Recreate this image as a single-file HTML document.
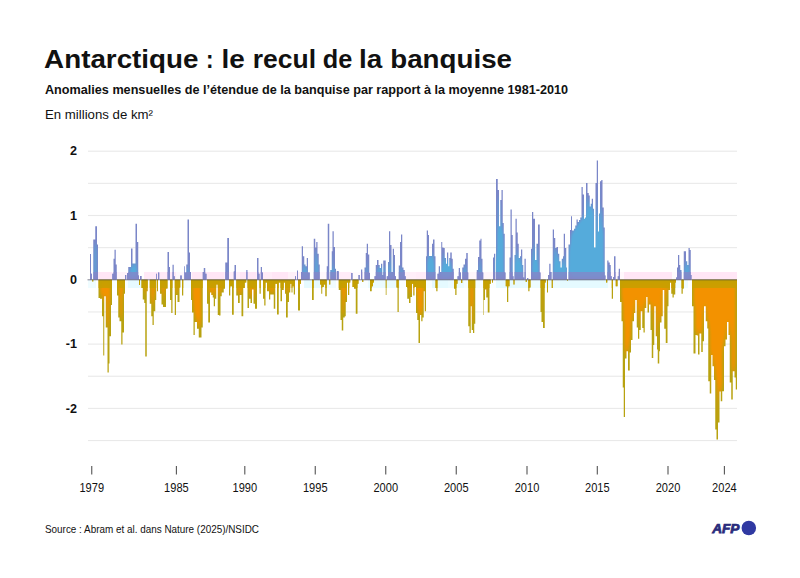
<!DOCTYPE html>
<html><head><meta charset="utf-8"><title>Antarctique</title>
<style>
html,body{margin:0;padding:0;background:#fff;}
body{width:800px;height:578px;overflow:hidden;position:relative;font-family:"Liberation Sans",sans-serif;}
svg{position:absolute;left:0;top:0;}
text{font-family:"Liberation Sans",sans-serif;fill:#111;}
.t1{font-size:26px;font-weight:bold;}
.t2{font-size:13px;font-weight:bold;}
.t3{font-size:13px;}
.yl{font-size:12.6px;font-weight:bold;}
.xl{font-size:12.4px;}
.src{font-size:10.6px;}
.afp{font-size:12.9px;font-weight:bold;font-style:italic;fill:#2a2c7c;stroke:#2a2c7c;stroke-width:0.75px;stroke-linejoin:miter;}
</style></head><body>
<svg width="800" height="578" viewBox="0 0 800 578">
<rect width="800" height="578" fill="#fff"/>
<text x="44.10" y="68.3" class="t1" textLength="154.40" lengthAdjust="spacingAndGlyphs">Antarctique</text><text x="206.00" y="68.3" class="t1" textLength="7.50" lengthAdjust="spacingAndGlyphs">:</text><text x="221.50" y="68.3" class="t1" textLength="23.25" lengthAdjust="spacingAndGlyphs">le</text><text x="252.75" y="68.3" class="t1" textLength="63.25" lengthAdjust="spacingAndGlyphs">recul</text><text x="322.75" y="68.3" class="t1" textLength="29.50" lengthAdjust="spacingAndGlyphs">de</text><text x="359.00" y="68.3" class="t1" textLength="23.25" lengthAdjust="spacingAndGlyphs">la</text><text x="390.25" y="68.3" class="t1" textLength="121.75" lengthAdjust="spacingAndGlyphs">banquise</text>
<text x="45" y="93.6" class="t2" textLength="523" lengthAdjust="spacingAndGlyphs">Anomalies mensuelles de l’étendue de la banquise par rapport à la moyenne 1981-2010</text>
<text x="45" y="119.2" class="t3" textLength="108" lengthAdjust="spacingAndGlyphs">En millions de km²</text>
<rect x="88" y="280" width="8" height="8" fill="#e0f9ff" fill-opacity="0.52"/><rect x="96" y="272" width="16" height="7.5" fill="#ffe2f4" fill-opacity="0.85"/><rect x="112" y="272" width="16" height="7.5" fill="#ffe2f4" fill-opacity="0.42"/><rect x="112" y="280" width="16" height="8" fill="#e0f9ff" fill-opacity="0.18"/><rect x="128" y="280" width="16" height="8" fill="#e0f9ff" fill-opacity="0.77"/><rect x="144" y="272" width="16" height="7.5" fill="#ffe2f4" fill-opacity="0.77"/><rect x="160" y="272" width="16" height="7.5" fill="#ffe2f4" fill-opacity="0.77"/><rect x="160" y="280" width="16" height="8" fill="#e0f9ff" fill-opacity="0.02"/><rect x="176" y="272" width="16" height="7.5" fill="#ffe2f4" fill-opacity="0.27"/><rect x="176" y="280" width="16" height="8" fill="#e0f9ff" fill-opacity="0.35"/><rect x="192" y="272" width="16" height="7.5" fill="#ffe2f4" fill-opacity="0.82"/><rect x="208" y="272" width="16" height="7.5" fill="#ffe2f4" fill-opacity="0.85"/><rect x="224" y="272" width="16" height="7.5" fill="#ffe2f4" fill-opacity="0.56"/><rect x="224" y="280" width="16" height="8" fill="#e0f9ff" fill-opacity="0.21"/><rect x="240" y="272" width="16" height="7.5" fill="#ffe2f4" fill-opacity="0.85"/><rect x="256" y="272" width="16" height="7.5" fill="#ffe2f4" fill-opacity="0.67"/><rect x="256" y="280" width="16" height="8" fill="#e0f9ff" fill-opacity="0.04"/><rect x="272" y="272" width="16" height="7.5" fill="#ffe2f4" fill-opacity="0.85"/><rect x="288" y="272" width="16" height="7.5" fill="#ffe2f4" fill-opacity="0.50"/><rect x="288" y="280" width="16" height="8" fill="#e0f9ff" fill-opacity="0.04"/><rect x="304" y="280" width="16" height="8" fill="#e0f9ff" fill-opacity="0.80"/><rect x="320" y="272" width="16" height="7.5" fill="#ffe2f4" fill-opacity="0.23"/><rect x="320" y="280" width="16" height="8" fill="#e0f9ff" fill-opacity="0.45"/><rect x="336" y="272" width="16" height="7.5" fill="#ffe2f4" fill-opacity="0.66"/><rect x="352" y="272" width="16" height="7.5" fill="#ffe2f4" fill-opacity="0.18"/><rect x="352" y="280" width="16" height="8" fill="#e0f9ff" fill-opacity="0.20"/><rect x="368" y="280" width="16" height="8" fill="#e0f9ff" fill-opacity="0.66"/><rect x="384" y="280" width="16" height="8" fill="#e0f9ff" fill-opacity="0.73"/><rect x="400" y="272" width="16" height="7.5" fill="#ffe2f4" fill-opacity="0.55"/><rect x="400" y="280" width="16" height="8" fill="#e0f9ff" fill-opacity="0.12"/><rect x="416" y="272" width="16" height="7.5" fill="#ffe2f4" fill-opacity="0.64"/><rect x="416" y="280" width="16" height="8" fill="#e0f9ff" fill-opacity="0.21"/><rect x="432" y="280" width="16" height="8" fill="#e0f9ff" fill-opacity="0.85"/><rect x="448" y="280" width="16" height="8" fill="#e0f9ff" fill-opacity="0.65"/><rect x="464" y="272" width="16" height="7.5" fill="#ffe2f4" fill-opacity="0.32"/><rect x="464" y="280" width="16" height="8" fill="#e0f9ff" fill-opacity="0.37"/><rect x="480" y="272" width="16" height="7.5" fill="#ffe2f4" fill-opacity="0.35"/><rect x="480" y="280" width="16" height="8" fill="#e0f9ff" fill-opacity="0.15"/><rect x="496" y="280" width="16" height="8" fill="#e0f9ff" fill-opacity="0.84"/><rect x="512" y="280" width="16" height="8" fill="#e0f9ff" fill-opacity="0.79"/><rect x="528" y="272" width="16" height="7.5" fill="#ffe2f4" fill-opacity="0.19"/><rect x="528" y="280" width="16" height="8" fill="#e0f9ff" fill-opacity="0.58"/><rect x="544" y="280" width="16" height="8" fill="#e0f9ff" fill-opacity="0.65"/><rect x="560" y="280" width="16" height="8" fill="#e0f9ff" fill-opacity="0.85"/><rect x="576" y="280" width="16" height="8" fill="#e0f9ff" fill-opacity="0.85"/><rect x="592" y="280" width="16" height="8" fill="#e0f9ff" fill-opacity="0.85"/><rect x="608" y="272" width="16" height="7.5" fill="#ffe2f4" fill-opacity="0.29"/><rect x="608" y="280" width="16" height="8" fill="#e0f9ff" fill-opacity="0.28"/><rect x="624" y="272" width="16" height="7.5" fill="#ffe2f4" fill-opacity="0.85"/><rect x="640" y="272" width="16" height="7.5" fill="#ffe2f4" fill-opacity="0.85"/><rect x="656" y="272" width="16" height="7.5" fill="#ffe2f4" fill-opacity="0.85"/><rect x="672" y="272" width="16" height="7.5" fill="#ffe2f4" fill-opacity="0.19"/><rect x="672" y="280" width="16" height="8" fill="#e0f9ff" fill-opacity="0.53"/><rect x="688" y="272" width="16" height="7.5" fill="#ffe2f4" fill-opacity="0.85"/><rect x="704" y="272" width="16" height="7.5" fill="#ffe2f4" fill-opacity="0.85"/><rect x="720" y="272" width="16" height="7.5" fill="#ffe2f4" fill-opacity="0.85"/><rect x="736" y="272" width="1" height="7.5" fill="#ffe2f4" fill-opacity="0.85"/>
<rect x="88" y="440.00" width="649" height="1.1" fill="#e9e9e9"/><rect x="88" y="407.85" width="649" height="1.1" fill="#e9e9e9"/><rect x="88" y="375.70" width="649" height="1.1" fill="#e9e9e9"/><rect x="88" y="343.55" width="649" height="1.1" fill="#e9e9e9"/><rect x="88" y="311.40" width="649" height="1.1" fill="#e9e9e9"/><rect x="88" y="247.10" width="649" height="1.1" fill="#e9e9e9"/><rect x="88" y="214.95" width="649" height="1.1" fill="#e9e9e9"/><rect x="88" y="182.80" width="649" height="1.1" fill="#e9e9e9"/><rect x="88" y="150.65" width="649" height="1.1" fill="#e9e9e9"/>
<defs><filter id="fp" filterUnits="userSpaceOnUse" x="80" y="140" width="670" height="320" color-interpolation-filters="sRGB"><feGaussianBlur in="SourceAlpha" stdDeviation="2.5 5" result="m"/><feComponentTransfer in="m" result="w"><feFuncA type="linear" slope="2.5" intercept="-1.125"/></feComponentTransfer><feFlood flood-color="#55abdb" result="cb"/><feComposite in="cb" in2="w" operator="in" result="cbw"/><feFlood flood-color="#7a86c8" result="ct"/><feMerge result="mix"><feMergeNode in="ct"/><feMergeNode in="cbw"/></feMerge><feComposite in="mix" in2="SourceAlpha" operator="in"/></filter><filter id="fn" filterUnits="userSpaceOnUse" x="80" y="140" width="670" height="320" color-interpolation-filters="sRGB"><feGaussianBlur in="SourceAlpha" stdDeviation="2.5 5" result="m"/><feComponentTransfer in="m" result="w"><feFuncA type="linear" slope="2.4" intercept="-1.27"/></feComponentTransfer><feFlood flood-color="#f39200" result="cb"/><feComposite in="cb" in2="w" operator="in" result="cbw"/><feFlood flood-color="#b8a210" result="ct"/><feMerge result="mix"><feMergeNode in="ct"/><feMergeNode in="cbw"/></feMerge><feComposite in="mix" in2="SourceAlpha" operator="in"/></filter><clipPath id="cn"><rect x="80" y="280" width="670" height="8"/></clipPath><clipPath id="cp"><rect x="80" y="272" width="670" height="7.6"/></clipPath></defs><path d="M86,279.5H90V254.00H91V273.75H92V279.50H93.25V239.38H95.25V226.25H97V244.38H98V279.50H112.25V273.75H113.5V258.75H114.5V249.75H115.75V264.38H116.75V279.50H125V275.00H126.25V279.50H127V273.12H128.25V266.88H131V248.50H132.5V263.50H135.5V223.75H137V241.88H138.25V275.50H139V279.50H140V276.00H141.5V279.50H156.25V273.75H157V279.50H158V272.50H159.25V279.50H167.5V251.88H169V266.88H170V279.50H172.5V264.75H173.75V276.25H174.75V279.50H180.25V275.38H181.75V279.50H184.25V266.25H185V272.50H186.25V264.38H187.5V219.38H189V252.50H190V271.88H191V279.50H202.75V271.88H203.75V268.12H205.25V273.75H206.5V279.50H225.25V262.50H227.25V238.12H229V279.50H233.75V271.25H234.5V265.00H236V279.50H246.25V270.00H247.5V279.50H257V258.12H258.5V273.75H259.5V279.50H260.75V266.88H262V272.50H263V279.50H295V276.25H296V279.50H297V270.62H298V279.50H301V271.88H301.75V246.25H303V256.25H304.25V264.38H305.5V266.25H306.75V258.12H308V272.50H309.75V279.50H313.75V238.75H315.25V247.50H316.25V241.88H317.5V253.75H318.75V264.38H319.75V279.50H326.75V266.25H327.75V223.75H329.25V279.50H330.25V270.00H331.75V251.25H332.5V231.25H333.75V246.88H335V268.75H336V279.50H336.75V271.00H338.75V279.50H351.25V273.12H352.5V279.50H358.5V275.00H359.75V279.50H361V269.38H362.25V279.50H364.5V267.50H365.75V253.12H366.75V243.75H368V254.38H369.25V273.12H370V279.50H374.5V276.25H375.75V265.00H377V260.00H378.5V265.00H379.75V268.12H381V263.75H382.25V275.00H383.25V260.62H385.75V279.50H386.75V276.25H388V261.88H389V231.25H390.25V245.00H391.5V271.88H392.75V248.75H394V255.00H395V276.25H396V279.50H398.75V265.62H400V241.88H401V234.38H402.25V267.50H403.5V270.00H404.75V276.25H405.75V279.50H426V256.25H426.75V230.62H428V235.00H429V256.00H432V243.75H433V239.38H434.5V256.25H435.5V279.50H437.5V273.75H438.75V266.25H440V271.88H441.25V241.88H442.25V247.50H443.5V248.12H444.75V258.12H446V263.75H447V252.50H448.25V266.25H449.25V258.12H450.25V252.50H451.75V258.75H452.75V268.75H453.75V279.50H457.5V276.25H458.75V268.12H460V272.50H461V279.50H462.25V267.50H463.5V264.38H465V258.75H466.25V253.12H467.75V272.50H468.25V279.50H476.75V270.00H478V256.88H479.25V240.62H480.5V238.75H481.5V258.75H482.5V272.50H483.25V279.50H493V257.50H494V253.75H495.25V279.50H496V179.00H497.75V190.00H499V226.25H500.25V200.00H501.5V190.00H502.75V223.12H503.75V233.75H504.75V272.50H505.5V279.50H509.5V257.50H510.5V209.50H511.75V235.00H512.75V276.25H513.5V279.50H514.5V255.00H515.5V218.75H516.75V232.50H517.75V243.75H518.75V258.12H520V256.25H521V249.38H522.25V265.00H523.25V277.50H524.25V279.50H524.5V258.75H525.75V279.50H527V278.12H528.25V279.50H531V248.75H532V211.88H533.25V218.75H535V260.00H536.5V243.75H538V224.38H539.75V272.50H540.5V279.50H548V275.00H549.25V263.75H550.5V271.88H551.5V279.50H552.75V229.38H554V238.12H555.25V248.12H556.5V246.88H558V253.75H559.25V261.25H560.5V267.50H561.75V258.75H563V256.25H563.75V233.75H565V248.12H566.25V267.50H567V279.50H568.5V244.38H570V230.00H571V216.25H572V230.62H574V228.75H575.25V225.62H576.5V219.38H577.75V221.88H579V220.00H580.25V217.50H581.5V186.88H582.75V194.50H584V218.75H585V217.50H586V183.12H587.5V193.12H588.75V195.50H589.75V206.50H590.75V203.75H591.75V198.75H593V208.75H594V247.50H595.5V183.12H596.75V160.50H598V231.50H599V213.50H600V181.25H601.25V180.00H602.5V207.50H603.75V227.50H604.75V275.50H605.5V279.50H607.25V260.62H608.5V262.50H609.75V265.00H610.75V276.25H611.75V279.50H613V276.88H614V256.25H615.5V279.50H617.75V276.25H618.75V268.75H620V279.50H676V277.50H677V267.50H678V255.00H679.25V265.00H680.25V270.00H681.5V279.50H683.75V251.25H686V261.25H687.25V265.00H688.5V248.12H689.75V250.00H690.75V275.00H691.5V279.50H740V279.5Z" fill="#000" filter="url(#fp)"/><path d="M86,279.5H92.25V281.50H93.25V279.50H98.5V298.12H100V298.75H102V316.25H103.25V355.50H104.25V296.25H105.75V327.50H107.5V372.50H108.75V363.50H109.5V336.25H111V305.00H112V279.50H117V295.62H118.25V317.50H119.5V321.25H121.25V344.50H122.5V332.50H124V293.75H125V279.50H139V285.00H140V279.50H141.5V288.12H142.75V299.38H144.25V303.12H145.25V356.50H146.75V291.25H147.75V279.50H149.75V303.75H151.25V316.25H152.5V325.00H153.75V311.25H155.25V300.00H156.25V279.50H157V291.25H158V279.50H160V293.75H161.5V304.38H163V306.88H166V288.75H167.5V279.50H170V300.00H171.25V313.12H172.5V279.50H174.75V315.00H176V295.00H177.5V301.88H179.5V287.50H180.25V279.50H182V295.62H183.25V279.50H191V300.00H192V312.50H193.5V335.00H194.75V321.88H197V328.75H198.75V337.50H201.5V327.50H202.75V279.50H207V303.75H208.25V322.50H210V292.50H211.25V295.00H212.75V297.50H213.75V306.25H215V298.75H216.25V284.38H217.75V315.00H219V315.62H220.5V296.25H221.75V292.50H223.75V288.75H225V279.50H229V295.62H230.25V286.25H232V314.75H233.75V279.50H236.25V295.62H238V303.12H239.75V295.00H241.5V316.25H243.25V288.12H244.75V282.50H246.25V279.50H247.5V308.12H249V298.75H250.5V303.12H252V289.38H253.5V303.75H255V308.75H257V279.50H259.5V293.75H260.75V279.50H263V298.75H264.25V305.62H265.5V282.50H267V291.25H269V299.38H270.25V294.38H273.75V308.75H275.25V283.75H277V314.38H278.75V282.50H280.5V301.25H282V290.00H283.75V282.50H285V293.75H286V317.50H287.75V301.88H289V292.50H290.25V283.75H291.5V292.50H292.5V286.25H293.75V294.38H295V279.50H298V310.62H300V283.75H301V279.50H312V300.00H313.75V279.50H320V284.38H321.25V293.75H322.25V286.88H323.75V284.38H325.25V296.25H326.75V279.50H329.25V284.38H330.25V279.50H338.75V290.00H340.5V320.00H341.75V330.62H343.25V317.50H344.75V316.25H345.75V301.88H347V282.50H348V295.00H349.25V282.50H350.25V279.50H352.5V286.88H354V288.75H355.75V313.75H357.5V283.75H358.5V279.50H362.25V281.88H363.25V279.50H370V291.25H371.75V286.25H373V282.50H374V279.50H385.75V295.00H386.5V279.50H396.5V287.50H397.5V311.88H398.75V279.50H406V286.88H407.25V298.75H409V303.12H410.5V296.88H412V283.75H413.25V295.62H414.5V286.88H416V313.12H417.25V320.00H418.5V343.12H420V315.00H421.25V321.25H422.5V317.50H423.75V291.25H424.75V311.25H426V279.50H435.5V288.12H436.25V291.25H437.5V279.50H454V288.75H455.25V295.00H456.5V283.75H457.5V279.50H461V283.12H462.25V279.50H468.25V326.25H469.5V333.12H470.75V306.25H471.75V330.00H473V333.12H474.25V323.75H475.25V279.50H483.25V315.00H483.75V300.00H485V289.38H486.25V297.50H487.75V312.50H489.5V283.75H490.75V279.50H492V282.50H493V279.50H505.75V286.25H507V301.88H508.25V286.25H509.5V279.50H513.5V284.38H514.5V279.50H525.75V281.88H526.75V279.50H528.25V291.25H529.5V287.50H530.5V279.50H540.5V311.88H541.5V321.88H543V328.12H544.75V282.50H545.75V279.50H547V292.50H548V279.50H551.75V288.12H552.75V279.50H567V280.62H568V279.50H606V282.50H607.25V279.50H611.75V298.75H613V279.50H615.75V286.25H617.5V279.50H620V301.88H621.5V321.25H622.75V387.50H623.75V417.00H625V358.50H626.5V351.25H628V370.50H629.75V352.50H631V340.00H632.5V321.25H634V313.12H635.25V300.00H636.75V327.50H638V338.75H639.25V330.00H640.75V311.25H642.25V328.12H643.5V332.50H644.75V308.12H646.25V296.88H647.5V312.50H649V304.38H650.5V330.00H651.75V358.12H653.25V345.00H654.25V306.25H655.75V336.25H657V349.50H657.75V363.50H659.25V351.25H660V322.50H661.5V316.25H662.75V290.00H664.25V328.75H665.75V343.12H667.5V306.25H668.5V290.00H670V282.50H671.25V293.75H672.5V297.50H673.75V294.38H675.25V282.50H676V279.50H681.5V293.75H682.75V288.75H683.75V279.50H692V306.25H693.5V353.50H695.5V335.00H696.75V335.50H698V354.50H699.5V333.50H701.25V351.90H702.75V341.25H704V306.25H705.75V321.25H707.25V328.50H708.25V381.25H709.75V393.50H711.25V355.00H712.5V366.25H714V380.00H715.25V429.50H716.5V439.50H718V422.50H719.5V391.50H720.75V401.25H722.25V391.25H724V346.25H725.5V339.50H727V321.90H728.5V335.00H729.75V382.50H731.25V399.50H732.75V371.25H734.5V377.50H735.75V389.50H737V279.50H740V279.5Z" fill="#000" filter="url(#fn)"/><path d="M86,279.5H92.25V281.50H93.25V279.50H98.5V298.12H100V298.75H102V316.25H103.25V355.50H104.25V296.25H105.75V327.50H107.5V372.50H108.75V363.50H109.5V336.25H111V305.00H112V279.50H117V295.62H118.25V317.50H119.5V321.25H121.25V344.50H122.5V332.50H124V293.75H125V279.50H139V285.00H140V279.50H141.5V288.12H142.75V299.38H144.25V303.12H145.25V356.50H146.75V291.25H147.75V279.50H149.75V303.75H151.25V316.25H152.5V325.00H153.75V311.25H155.25V300.00H156.25V279.50H157V291.25H158V279.50H160V293.75H161.5V304.38H163V306.88H166V288.75H167.5V279.50H170V300.00H171.25V313.12H172.5V279.50H174.75V315.00H176V295.00H177.5V301.88H179.5V287.50H180.25V279.50H182V295.62H183.25V279.50H191V300.00H192V312.50H193.5V335.00H194.75V321.88H197V328.75H198.75V337.50H201.5V327.50H202.75V279.50H207V303.75H208.25V322.50H210V292.50H211.25V295.00H212.75V297.50H213.75V306.25H215V298.75H216.25V284.38H217.75V315.00H219V315.62H220.5V296.25H221.75V292.50H223.75V288.75H225V279.50H229V295.62H230.25V286.25H232V314.75H233.75V279.50H236.25V295.62H238V303.12H239.75V295.00H241.5V316.25H243.25V288.12H244.75V282.50H246.25V279.50H247.5V308.12H249V298.75H250.5V303.12H252V289.38H253.5V303.75H255V308.75H257V279.50H259.5V293.75H260.75V279.50H263V298.75H264.25V305.62H265.5V282.50H267V291.25H269V299.38H270.25V294.38H273.75V308.75H275.25V283.75H277V314.38H278.75V282.50H280.5V301.25H282V290.00H283.75V282.50H285V293.75H286V317.50H287.75V301.88H289V292.50H290.25V283.75H291.5V292.50H292.5V286.25H293.75V294.38H295V279.50H298V310.62H300V283.75H301V279.50H312V300.00H313.75V279.50H320V284.38H321.25V293.75H322.25V286.88H323.75V284.38H325.25V296.25H326.75V279.50H329.25V284.38H330.25V279.50H338.75V290.00H340.5V320.00H341.75V330.62H343.25V317.50H344.75V316.25H345.75V301.88H347V282.50H348V295.00H349.25V282.50H350.25V279.50H352.5V286.88H354V288.75H355.75V313.75H357.5V283.75H358.5V279.50H362.25V281.88H363.25V279.50H370V291.25H371.75V286.25H373V282.50H374V279.50H385.75V295.00H386.5V279.50H396.5V287.50H397.5V311.88H398.75V279.50H406V286.88H407.25V298.75H409V303.12H410.5V296.88H412V283.75H413.25V295.62H414.5V286.88H416V313.12H417.25V320.00H418.5V343.12H420V315.00H421.25V321.25H422.5V317.50H423.75V291.25H424.75V311.25H426V279.50H435.5V288.12H436.25V291.25H437.5V279.50H454V288.75H455.25V295.00H456.5V283.75H457.5V279.50H461V283.12H462.25V279.50H468.25V326.25H469.5V333.12H470.75V306.25H471.75V330.00H473V333.12H474.25V323.75H475.25V279.50H483.25V315.00H483.75V300.00H485V289.38H486.25V297.50H487.75V312.50H489.5V283.75H490.75V279.50H492V282.50H493V279.50H505.75V286.25H507V301.88H508.25V286.25H509.5V279.50H513.5V284.38H514.5V279.50H525.75V281.88H526.75V279.50H528.25V291.25H529.5V287.50H530.5V279.50H540.5V311.88H541.5V321.88H543V328.12H544.75V282.50H545.75V279.50H547V292.50H548V279.50H551.75V288.12H552.75V279.50H567V280.62H568V279.50H606V282.50H607.25V279.50H611.75V298.75H613V279.50H615.75V286.25H617.5V279.50H620V301.88H621.5V321.25H622.75V387.50H623.75V417.00H625V358.50H626.5V351.25H628V370.50H629.75V352.50H631V340.00H632.5V321.25H634V313.12H635.25V300.00H636.75V327.50H638V338.75H639.25V330.00H640.75V311.25H642.25V328.12H643.5V332.50H644.75V308.12H646.25V296.88H647.5V312.50H649V304.38H650.5V330.00H651.75V358.12H653.25V345.00H654.25V306.25H655.75V336.25H657V349.50H657.75V363.50H659.25V351.25H660V322.50H661.5V316.25H662.75V290.00H664.25V328.75H665.75V343.12H667.5V306.25H668.5V290.00H670V282.50H671.25V293.75H672.5V297.50H673.75V294.38H675.25V282.50H676V279.50H681.5V293.75H682.75V288.75H683.75V279.50H692V306.25H693.5V353.50H695.5V335.00H696.75V335.50H698V354.50H699.5V333.50H701.25V351.90H702.75V341.25H704V306.25H705.75V321.25H707.25V328.50H708.25V381.25H709.75V393.50H711.25V355.00H712.5V366.25H714V380.00H715.25V429.50H716.5V439.50H718V422.50H719.5V391.50H720.75V401.25H722.25V391.25H724V346.25H725.5V339.50H727V321.90H728.5V335.00H729.75V382.50H731.25V399.50H732.75V371.25H734.5V377.50H735.75V389.50H737V279.50H740V279.5Z" fill="#c6a000" fill-opacity="0.85" clip-path="url(#cn)"/><path d="M86,279.5H90V254.00H91V273.75H92V279.50H93.25V239.38H95.25V226.25H97V244.38H98V279.50H112.25V273.75H113.5V258.75H114.5V249.75H115.75V264.38H116.75V279.50H125V275.00H126.25V279.50H127V273.12H128.25V266.88H131V248.50H132.5V263.50H135.5V223.75H137V241.88H138.25V275.50H139V279.50H140V276.00H141.5V279.50H156.25V273.75H157V279.50H158V272.50H159.25V279.50H167.5V251.88H169V266.88H170V279.50H172.5V264.75H173.75V276.25H174.75V279.50H180.25V275.38H181.75V279.50H184.25V266.25H185V272.50H186.25V264.38H187.5V219.38H189V252.50H190V271.88H191V279.50H202.75V271.88H203.75V268.12H205.25V273.75H206.5V279.50H225.25V262.50H227.25V238.12H229V279.50H233.75V271.25H234.5V265.00H236V279.50H246.25V270.00H247.5V279.50H257V258.12H258.5V273.75H259.5V279.50H260.75V266.88H262V272.50H263V279.50H295V276.25H296V279.50H297V270.62H298V279.50H301V271.88H301.75V246.25H303V256.25H304.25V264.38H305.5V266.25H306.75V258.12H308V272.50H309.75V279.50H313.75V238.75H315.25V247.50H316.25V241.88H317.5V253.75H318.75V264.38H319.75V279.50H326.75V266.25H327.75V223.75H329.25V279.50H330.25V270.00H331.75V251.25H332.5V231.25H333.75V246.88H335V268.75H336V279.50H336.75V271.00H338.75V279.50H351.25V273.12H352.5V279.50H358.5V275.00H359.75V279.50H361V269.38H362.25V279.50H364.5V267.50H365.75V253.12H366.75V243.75H368V254.38H369.25V273.12H370V279.50H374.5V276.25H375.75V265.00H377V260.00H378.5V265.00H379.75V268.12H381V263.75H382.25V275.00H383.25V260.62H385.75V279.50H386.75V276.25H388V261.88H389V231.25H390.25V245.00H391.5V271.88H392.75V248.75H394V255.00H395V276.25H396V279.50H398.75V265.62H400V241.88H401V234.38H402.25V267.50H403.5V270.00H404.75V276.25H405.75V279.50H426V256.25H426.75V230.62H428V235.00H429V256.00H432V243.75H433V239.38H434.5V256.25H435.5V279.50H437.5V273.75H438.75V266.25H440V271.88H441.25V241.88H442.25V247.50H443.5V248.12H444.75V258.12H446V263.75H447V252.50H448.25V266.25H449.25V258.12H450.25V252.50H451.75V258.75H452.75V268.75H453.75V279.50H457.5V276.25H458.75V268.12H460V272.50H461V279.50H462.25V267.50H463.5V264.38H465V258.75H466.25V253.12H467.75V272.50H468.25V279.50H476.75V270.00H478V256.88H479.25V240.62H480.5V238.75H481.5V258.75H482.5V272.50H483.25V279.50H493V257.50H494V253.75H495.25V279.50H496V179.00H497.75V190.00H499V226.25H500.25V200.00H501.5V190.00H502.75V223.12H503.75V233.75H504.75V272.50H505.5V279.50H509.5V257.50H510.5V209.50H511.75V235.00H512.75V276.25H513.5V279.50H514.5V255.00H515.5V218.75H516.75V232.50H517.75V243.75H518.75V258.12H520V256.25H521V249.38H522.25V265.00H523.25V277.50H524.25V279.50H524.5V258.75H525.75V279.50H527V278.12H528.25V279.50H531V248.75H532V211.88H533.25V218.75H535V260.00H536.5V243.75H538V224.38H539.75V272.50H540.5V279.50H548V275.00H549.25V263.75H550.5V271.88H551.5V279.50H552.75V229.38H554V238.12H555.25V248.12H556.5V246.88H558V253.75H559.25V261.25H560.5V267.50H561.75V258.75H563V256.25H563.75V233.75H565V248.12H566.25V267.50H567V279.50H568.5V244.38H570V230.00H571V216.25H572V230.62H574V228.75H575.25V225.62H576.5V219.38H577.75V221.88H579V220.00H580.25V217.50H581.5V186.88H582.75V194.50H584V218.75H585V217.50H586V183.12H587.5V193.12H588.75V195.50H589.75V206.50H590.75V203.75H591.75V198.75H593V208.75H594V247.50H595.5V183.12H596.75V160.50H598V231.50H599V213.50H600V181.25H601.25V180.00H602.5V207.50H603.75V227.50H604.75V275.50H605.5V279.50H607.25V260.62H608.5V262.50H609.75V265.00H610.75V276.25H611.75V279.50H613V276.88H614V256.25H615.5V279.50H617.75V276.25H618.75V268.75H620V279.50H676V277.50H677V267.50H678V255.00H679.25V265.00H680.25V270.00H681.5V279.50H683.75V251.25H686V261.25H687.25V265.00H688.5V248.12H689.75V250.00H690.75V275.00H691.5V279.50H740V279.5Z" fill="#8686c8" fill-opacity="0.75" clip-path="url(#cp)"/>
<rect x="87.5" y="279.30" width="649.5" height="1" fill="#30304a" fill-opacity="0.6"/>
<text x="77" y="155.40" text-anchor="end" class="yl">2</text><text x="77" y="219.70" text-anchor="end" class="yl">1</text><text x="77" y="284.00" text-anchor="end" class="yl">0</text><text x="77" y="348.30" text-anchor="end" class="yl">-1</text><text x="77" y="412.60" text-anchor="end" class="yl">-2</text>
<rect x="91.20" y="466" width="1.1" height="8.5" fill="#555"/><text x="91.75" y="492.3" text-anchor="middle" class="xl" textLength="24.6" lengthAdjust="spacingAndGlyphs">1979</text><rect x="175.85" y="466" width="1.1" height="8.5" fill="#555"/><text x="176.40" y="492.3" text-anchor="middle" class="xl" textLength="24.6" lengthAdjust="spacingAndGlyphs">1985</text><rect x="244.25" y="466" width="1.1" height="8.5" fill="#555"/><text x="244.80" y="492.3" text-anchor="middle" class="xl" textLength="24.6" lengthAdjust="spacingAndGlyphs">1990</text><rect x="314.70" y="466" width="1.1" height="8.5" fill="#555"/><text x="315.25" y="492.3" text-anchor="middle" class="xl" textLength="24.6" lengthAdjust="spacingAndGlyphs">1995</text><rect x="385.20" y="466" width="1.1" height="8.5" fill="#555"/><text x="385.75" y="492.3" text-anchor="middle" class="xl" textLength="24.6" lengthAdjust="spacingAndGlyphs">2000</text><rect x="455.70" y="466" width="1.1" height="8.5" fill="#555"/><text x="456.25" y="492.3" text-anchor="middle" class="xl" textLength="24.6" lengthAdjust="spacingAndGlyphs">2005</text><rect x="526.45" y="466" width="1.1" height="8.5" fill="#555"/><text x="527.00" y="492.3" text-anchor="middle" class="xl" textLength="24.6" lengthAdjust="spacingAndGlyphs">2010</text><rect x="596.75" y="466" width="1.1" height="8.5" fill="#555"/><text x="597.30" y="492.3" text-anchor="middle" class="xl" textLength="24.6" lengthAdjust="spacingAndGlyphs">2015</text><rect x="667.45" y="466" width="1.1" height="8.5" fill="#555"/><text x="668.00" y="492.3" text-anchor="middle" class="xl" textLength="24.6" lengthAdjust="spacingAndGlyphs">2020</text><rect x="723.85" y="466" width="1.1" height="8.5" fill="#555"/><text x="724.40" y="492.3" text-anchor="middle" class="xl" textLength="24.6" lengthAdjust="spacingAndGlyphs">2024</text>
<text x="45" y="533.2" class="src" textLength="214" lengthAdjust="spacingAndGlyphs">Source : Abram et al. dans Nature (2025)/NSIDC</text>
<text x="712.2" y="532.7" class="afp" textLength="27.3" lengthAdjust="spacingAndGlyphs">AFP</text>
<circle cx="748.8" cy="528" r="7.25" fill="#3039a2"/>
</svg>
</body></html>
